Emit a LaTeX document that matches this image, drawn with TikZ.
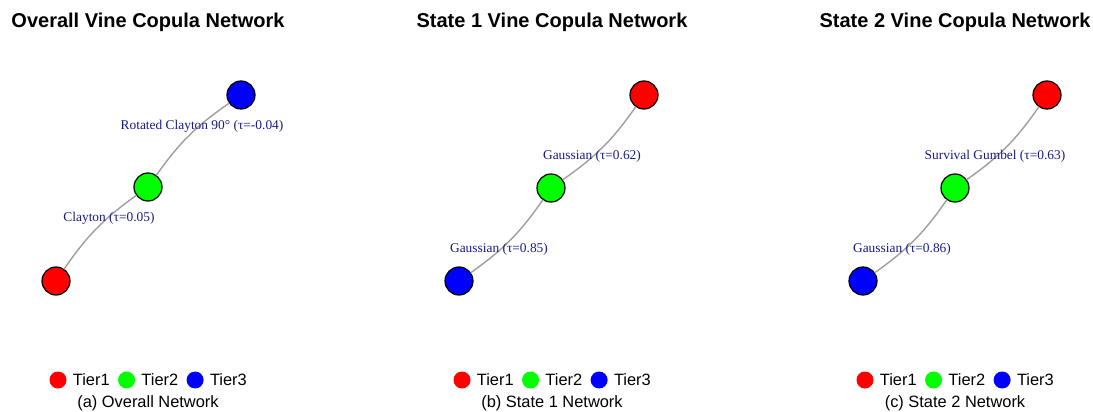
\documentclass[tikz,border=0pt]{standalone}
\usepackage{fontspec}
\setmainfont{Liberation Sans}
\newfontfamily\labfont{Liberation Serif}
\usetikzlibrary{positioning}

\definecolor{labblue}{RGB}{25,25,135}
\definecolor{tiergreen}{RGB}{0,255,0}

\tikzset{
  title/.style={font=\fontsize{20}{24}\selectfont\bfseries,inner sep=0pt},
  vert/.style={circle,draw=black,line width=1.2pt,minimum size=28pt,inner sep=0pt},
  link/.style={draw=black!38,line width=1.4pt},
  lab/.style={text=labblue,font=\labfont\fontsize{13.4}{15}\selectfont,inner sep=0pt},
  legdot/.style={circle,minimum size=17pt,inner sep=0pt},
  legtxt/.style={font=\fontsize{16.4}{19}\selectfont,inner sep=0pt}
}

\begin{document}
\begin{tikzpicture}[x=1pt,y=-1pt]
        \useasboundingbox (0,0) rectangle (1093,412);

        % overall
        \node[title] (ttl1) at (148,22) {Overall Vine Copula Network};
        \node[vert,fill=red] (o1) at (56,281) {};
        \node[vert,fill=tiergreen] (o2) at (148,187) {};
        \node[vert,fill=blue] (o3) at (241,95) {};
        \draw[link] (o1) to[bend left=10] (o2);
        \draw[link] (o2) to[bend left=10] (o3);
        \node[lab] (ol1) at (109,218) {Clayton (τ=0.05)};
        \node[lab] (ol2) at (202,126) {Rotated Clayton 90° (τ=-0.04)};

        \node[legdot,fill=red] (od1) at (58,380) {};
        \node[legtxt,right=6pt of od1] (ot1) {Tier1};
        \node[legdot,fill=tiergreen,right=8pt of ot1] (od2) {};
        \node[legtxt,right=6pt of od2] (ot2) {Tier2};
        \node[legdot,fill=blue,right=8pt of ot2] (od3) {};
        \node[legtxt,right=6pt of od3] (ot3) {Tier3};
        \node[legtxt] (ocap) at (148,403) {(a) Overall Network};

        % state 1
        \node[title] (ttl2) at (552,22) {State 1 Vine Copula Network};
        \node[vert,fill=red] (s1) at (644,95) {};
        \node[vert,fill=tiergreen] (s2) at (551,188) {};
        \node[vert,fill=blue] (s3) at (459,281) {};
        \draw[link] (s3) to[bend right=10] (s2);
        \draw[link] (s2) to[bend right=10] (s1);
        \node[lab] (sl1) at (592,156) {Gaussian (τ=0.62)};
        \node[lab] (sl2) at (499,249) {Gaussian (τ=0.85)};

        \node[legdot,fill=red] (sd1) at (462,380) {};
        \node[legtxt,right=6pt of sd1] (st1) {Tier1};
        \node[legdot,fill=tiergreen,right=8pt of st1] (sd2) {};
        \node[legtxt,right=6pt of sd2] (st2) {Tier2};
        \node[legdot,fill=blue,right=8pt of st2] (sd3) {};
        \node[legtxt,right=6pt of sd3] (st3) {Tier3};
        \node[legtxt] (scap) at (552,403) {(b) State 1 Network};

        % state 2
        \node[title] (ttl3) at (955,22) {State 2 Vine Copula Network};
        \node[vert,fill=red] (t1) at (1047,95) {};
        \node[vert,fill=tiergreen] (t2) at (955,188) {};
        \node[vert,fill=blue] (t3) at (863,281) {};
        \draw[link] (t3) to[bend right=10] (t2);
        \draw[link] (t2) to[bend right=10] (t1);
        \node[lab] (tl1) at (995,156) {Survival Gumbel (τ=0.63)};
        \node[lab] (tl2) at (902,249) {Gaussian (τ=0.86)};

        \node[legdot,fill=red] (td1) at (865,380) {};
        \node[legtxt,right=6pt of td1] (tt1) {Tier1};
        \node[legdot,fill=tiergreen,right=8pt of tt1] (td2) {};
        \node[legtxt,right=6pt of td2] (tt2) {Tier2};
        \node[legdot,fill=blue,right=8pt of tt2] (td3) {};
        \node[legtxt,right=6pt of td3] (tt3) {Tier3};
        \node[legtxt] (tcap) at (955,403) {(c) State 2 Network};

    \end{tikzpicture}
\end{document}
